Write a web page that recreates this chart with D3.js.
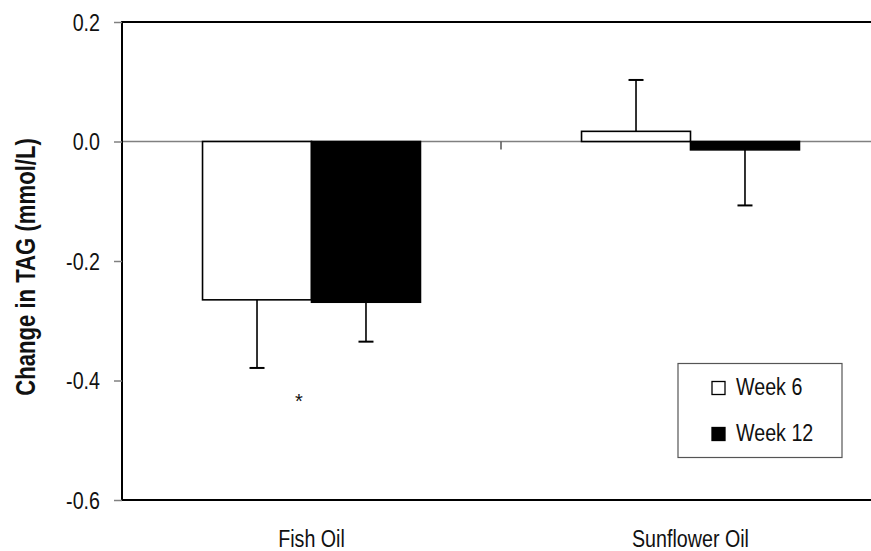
<!DOCTYPE html>
<html>
<head>
<meta charset="utf-8">
<script src="https://cdn.jsdelivr.net/npm/d3@7"></script>
<style>
  html, body { margin: 0; padding: 0; background: #fff; }
  svg { display: block; font-family: "Liberation Sans", Arial, sans-serif; }
</style>
</head>
<body>
<svg id="chart" width="871" height="551"></svg>
<script>
// Change in fasting TAG by supplement and time point
const categories = ["Fish Oil", "Sunflower Oil"];
const seriesNames = ["Week 6", "Week 12"];
const week6 = [-0.265, 0.017];
const week6Err = [0.114, 0.086];
const week12 = [-0.269, -0.014];
const week12Err = [0.066, 0.093];
const yTickValues = [0.2, 0.0, -0.2, -0.4, -0.6];
const yTickLabels = ["0.2", "0.0", "-0.2", "-0.4", "-0.6"];
const seriesFill = ["#ffffff", "#000000"];

// horizontal squeeze that gives the narrow sans look
const narrow = 0.82;

const svg = d3.select("#chart");
const plot = { left: 122, right: 880, top: 22, bottom: 500 };

const y = d3.scaleLinear().domain([-0.6, 0.2]).range([plot.bottom, plot.top]);
const x = d3.scaleBand().domain(categories).range([plot.left, plot.right]).padding(0);
const xInner = d3.scaleBand().domain(seriesNames).range([0, x.bandwidth()])
  .paddingInner(0).paddingOuter(0.739);

const rows = categories.map((c, i) => ({
  cat: c,
  bars: [
    { s: seriesNames[0], v: week6[i], e: week6Err[i], fill: seriesFill[0] },
    { s: seriesNames[1], v: week12[i], e: week12Err[i], fill: seriesFill[1] }
  ]
}));

// Narrow text placed at (px, py)
function narrowText(sel, px, py) {
  return sel.attr("transform", `translate(${px},${py}) scale(${narrow},1)`);
}

// Zero reference line
svg.append("line")
  .attr("x1", plot.left).attr("x2", plot.right)
  .attr("y1", y(0)).attr("y2", y(0))
  .attr("stroke", "#808080").attr("stroke-width", 1.5);

// Category divider tick on the zero line
svg.append("line")
  .attr("x1", x("Sunflower Oil")).attr("x2", x("Sunflower Oil"))
  .attr("y1", y(0)).attr("y2", y(0) + 8)
  .attr("stroke", "#555").attr("stroke-width", 1.5);

// Bars
const groups = svg.selectAll("g.cat").data(rows).join("g")
  .attr("class", "cat")
  .attr("transform", d => `translate(${x(d.cat)},0)`);

groups.selectAll("rect").data(d => d.bars).join("rect")
  .attr("x", d => xInner(d.s))
  .attr("width", xInner.bandwidth())
  .attr("y", d => Math.min(y(d.v), y(0)))
  .attr("height", d => Math.abs(y(d.v) - y(0)))
  .attr("fill", d => d.fill)
  .attr("stroke", "#000").attr("stroke-width", 1.6);

// One-sided error bars (pointing away from zero)
const capHalf = 7.5;
const errs = groups.selectAll("g.err").data(d => d.bars).join("g").attr("class", "err");
errs.append("line")
  .attr("x1", d => xInner(d.s) + xInner.bandwidth() / 2)
  .attr("x2", d => xInner(d.s) + xInner.bandwidth() / 2)
  .attr("y1", d => y(d.v))
  .attr("y2", d => y(d.v + Math.sign(d.v) * d.e))
  .attr("stroke", "#000").attr("stroke-width", 1.6);
errs.append("line")
  .attr("x1", d => xInner(d.s) + xInner.bandwidth() / 2 - capHalf)
  .attr("x2", d => xInner(d.s) + xInner.bandwidth() / 2 + capHalf)
  .attr("y1", d => y(d.v + Math.sign(d.v) * d.e))
  .attr("y2", d => y(d.v + Math.sign(d.v) * d.e))
  .attr("stroke", "#000").attr("stroke-width", 2);

// Significance marker
svg.append("text")
  .attr("x", 299).attr("y", 408)
  .attr("text-anchor", "middle").attr("font-size", 20).attr("fill", "#111")
  .text("*");

// Plot frame: left, top, bottom
svg.append("path")
  .attr("d", `M${plot.right},${plot.top}H${plot.left}V${plot.bottom}H${plot.right}`)
  .attr("fill", "none").attr("stroke", "#000").attr("stroke-width", 2);

// Y axis ticks and labels
const yAxis = d3.axisLeft(y).tickValues(yTickValues)
  .tickFormat((d, i) => yTickLabels[i]).tickSize(8).tickPadding(14);
const ga = svg.append("g").attr("transform", `translate(${plot.left},0)`).call(yAxis);
ga.select(".domain").remove();
ga.selectAll(".tick line").attr("stroke", "#808080").attr("stroke-width", 1.5);
ga.selectAll(".tick text")
  .attr("font-size", 24).attr("fill", "#111")
  .attr("font-family", "'Liberation Sans', Arial, sans-serif")
  .attr("x", -22 / narrow).attr("dy", "0.34em")
  .attr("transform", `scale(${narrow},1)`);

// Category labels
svg.selectAll("text.cat").data(categories).join("text")
  .attr("class", "cat")
  .each(function (d) { narrowText(d3.select(this), x(d) + x.bandwidth() / 2, 547); })
  .attr("text-anchor", "middle").attr("font-size", 24).attr("fill", "#111")
  .text(d => d);

// Y axis title
svg.append("text")
  .attr("transform", `translate(35,267) rotate(-90) scale(${narrow},1)`)
  .attr("text-anchor", "middle").attr("font-size", 27).attr("font-weight", "bold")
  .attr("fill", "#111")
  .text("Change in TAG (mmol/L)");

// Legend
const legend = svg.append("g");
legend.append("rect")
  .attr("x", 678).attr("y", 363.5).attr("width", 164).attr("height", 94)
  .attr("fill", "#fff").attr("stroke", "#555").attr("stroke-width", 1.2);
const legendRows = seriesNames.map((s, i) => ({ s, fill: seriesFill[i], base: 395 + i * 46 }));
legend.selectAll("rect.key").data(legendRows).join("rect")
  .attr("class", "key")
  .attr("x", 712).attr("y", d => d.base - 13.5)
  .attr("width", 13).attr("height", 13)
  .attr("fill", d => d.fill).attr("stroke", "#000").attr("stroke-width", 1.3);
legend.selectAll("text.lab").data(legendRows).join("text")
  .attr("class", "lab")
  .each(function (d) { narrowText(d3.select(this), 736, d.base); })
  .attr("font-size", 24).attr("fill", "#111")
  .text(d => d.s);
</script>
</body>
</html>
